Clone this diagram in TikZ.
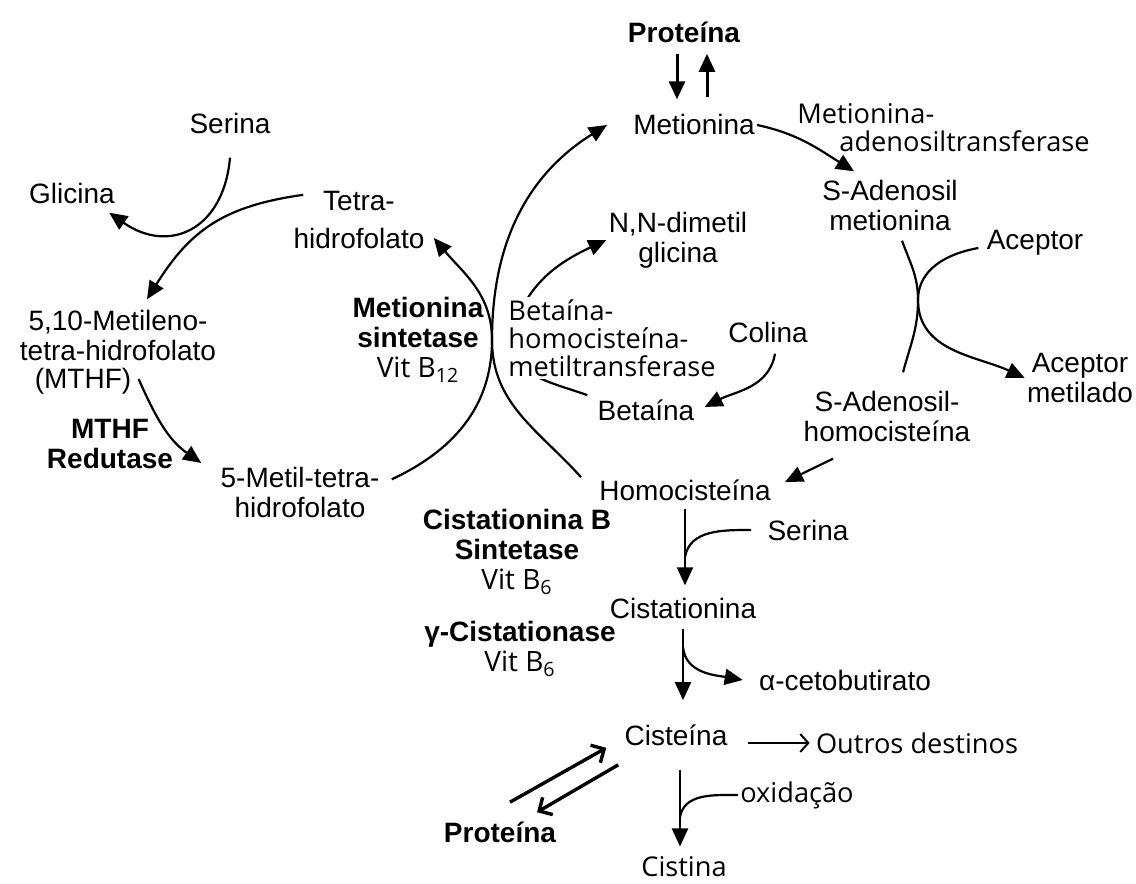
\documentclass[tikz,border=0pt]{standalone}
\usepackage{fontspec}
\setmainfont{Liberation Sans}
\newfontfamily\segoe{Open Sans}
\usetikzlibrary{arrows.meta}
\newcommand\vitb[1]{{\segoe\mdseries Vit B\textsubscript{#1}}}

\begin{document}
\begin{tikzpicture}[x=0.5pt,y=0.5pt]
        \tikzstyle{every node}=[inner sep=1pt, align=center, font=\fontsize{14}{15}\selectfont]
        \tikzstyle{bold}=[font=\bfseries\fontsize{14}{15}\selectfont]
        \tikzstyle{sego}=[font=\segoe\fontsize{13.6}{14}\selectfont]
        \tikzstyle{seg}=[line width=1.1pt]
        \tikzstyle{arr}=[seg, -{Triangle[length=9pt,width=8pt]}]
        \tikzstyle{bigarr}=[line width=1.5pt, -{Triangle[length=9pt,width=8pt]}]
        \tikzstyle{barb}=[line width=1.7pt, -{Straight Barb[length=5pt,width=10pt]}]
        \tikzstyle{plainarr}=[line width=1pt, -{Straight Barb[length=4pt,width=9pt]}]
        \useasboundingbox (0,0) rectangle (1136,884);
        \node[bold] (prot1) at (684,852) {Proteína};
        \node (met) at (694,759) {Metionina};
        \node[sego, anchor=west, align=left] (mat) at (795,756) {Metionina-\\\hspace*{21pt}adenosiltransferase};
        \node (sam) at (890,679) {S-Adenosil\\metionina};
        \node (acc) at (1035,641) {Aceptor};
        \node (accm) at (1080,506) {Aceptor\\metilado};
        \node (sah) at (887,468) {S-Adenosil-\\homocisteína};
        \node (homo) at (685,394) {Homocisteína};
        \node (nn) at (678,644) {N,N-dimetil\\glicina};
        \node (colina) at (768,552) {Colina};
        \node (betaina) at (646,474) {Betaína};
        \node (ser1) at (230,761) {Serina};
        \node (gli) at (72,691) {Glicina};
        \node (thf) at (359,664) {Tetra-\\[4pt]hidrofolato};
        \node (mthf5) at (118,549) {5,10-Metileno-\\tetra-hidrofolato};
        \node (mthfp) at (83,503) {(MTHF)};
        \node[bold] (red) at (110,440) {MTHF\\Redutase};
        \node (metil) at (300,392) {5-Metil-tetra-\\hidrofolato};
        \node[bold] (ms) at (418,544) {Metionina\\sintetase\\\vitb{12}};
        \node[bold] (cbs) at (517,332) {Cistationina B\\Sintetase\\\vitb{6}};
        \node (ser2) at (808,354) {Serina};
        \node (cist) at (683,276) {Cistationina};
        \node[bold] (gcs) at (520,235) {γ-Cistationase\\\vitb{6}};
        \node (keto) at (845,204) {α-cetobutirato};
        \node (cys) at (676,149) {Cisteína};
        \node[sego] (outros) at (917,141) {Outros destinos};
        \node[bold] (prot2) at (500,52) {Proteína};
        \node[sego] (oxi) at (797,89) {oxidação};
        \node[sego] (cistina) at (684,17) {Cistina};
        \coordinate (hub) at (492,544);
        \coordinate (hubb) at (512,544);
        \coordinate (xpt) at (918,584);
        \coordinate (j1) at (685,327);
        \coordinate (j2) at (683,237);
        \coordinate (j3) at (680,67);
        \draw[bigarr] ([xshift=-3.5pt,yshift=-4.5pt]prot1.south) -- ([xshift=-8.5pt,yshift=6.5pt]met.north);
        \draw[bigarr] ([xshift=6.5pt,yshift=7.5pt]met.north) -- ([xshift=11.5pt,yshift=-4.5pt]prot1.south);
        \draw[arr] (met.east) to[out=-12,in=148] ([xshift=-18pt,yshift=3pt]sam.north);
        \draw[seg] ([shift={(6pt,-4pt)}]sam.south) to[out=-70,in=90] (xpt) to[out=-90,in=75] ([shift={(8pt,8pt)}]sah.north);
        \draw[arr] ([shift={(-3pt,-2.5pt)}]acc.west) to[out=190,in=90] (xpt) to[out=-90,in=155] (accm.west);
        \draw[arr] ([shift={(-27pt,-7.5pt)}]sah.south) -- ([shift={(6pt,4pt)}]homo.east);
        \draw[arr] ([xshift=-8pt]homo.north west) to[out=132,in=-90] (hub) to[out=90,in=212] ([xshift=-12pt]met.west);
        \draw[arr] ([shift={(5pt,-7.5pt)}]metil.north east) to[out=25,in=-90] (hub) to[out=90,in=-50] ([shift={(3.5pt,-9pt)}]thf.east);
        \draw[arr] ([xshift=-4pt,yshift=1pt]betaina.north west) to[out=160,in=-90] (hubb) to[out=80,in=205] (nn.west);
        \draw[arr] ([shift={(3.5pt,-4.5pt)}]colina.south) to[out=-100,in=27] ([shift={(4pt,1.5pt)}]betaina.east);
        \draw[arr, looseness=1.4] ([yshift=-11pt]ser1.south) to[out=-95,in=-35] ([shift={(-4pt,-3.5pt)}]gli.south east);
        \draw[arr, looseness=1.1] ([shift={(6pt,-3pt)}]thf.north west) to[out=188,in=58] ([shift={(14.5pt,4pt)}]mthf5.north);
        \draw[arr] ([shift={(2.5pt,1pt)}]mthfp.east) to[out=-66,in=145] ([shift={(-8.5pt,14.5pt)}]metil.west);
        \draw[arr, shorten <=3pt, shorten >=5pt] (homo.south) -- (homo.south |- cist.north);
        \draw[seg] ([xshift=-7pt]ser2.west) to[out=180,in=80] (j1);
        \draw[arr, shorten <=4pt, shorten >=11pt] (cist.south) -- (cist.south |- cys.north);
        \draw[arr] (j2) to[out=-85,in=170] ([xshift=-7pt]keto.west);
        \draw[arr, shorten <=11pt, shorten >=4pt] ([xshift=2pt]cys.south) -- ([xshift=2pt]cys.south |- cistina.north);
        \draw[seg] (oxi.west) to[out=180,in=80] (j3);
        \draw[plainarr, shorten >=2pt] ([xshift=9pt]cys.east |- outros.west) -- (outros.west);
        \draw[barb] ([shift={(5pt,8.5pt)}]prot2.north) -- ([xshift=-8pt]cys.south west);
        \draw[barb] ([shift={(-2pt,-8.5pt)}]cys.south west) -- ([shift={(18.5pt,3.5pt)}]prot2.north);
        \node[sego, anchor=west, align=left, fill=white] (bhmt) at (506,546) {Betaína-\\homocisteína-\\metiltransferase};
    \end{tikzpicture}
\end{document}
